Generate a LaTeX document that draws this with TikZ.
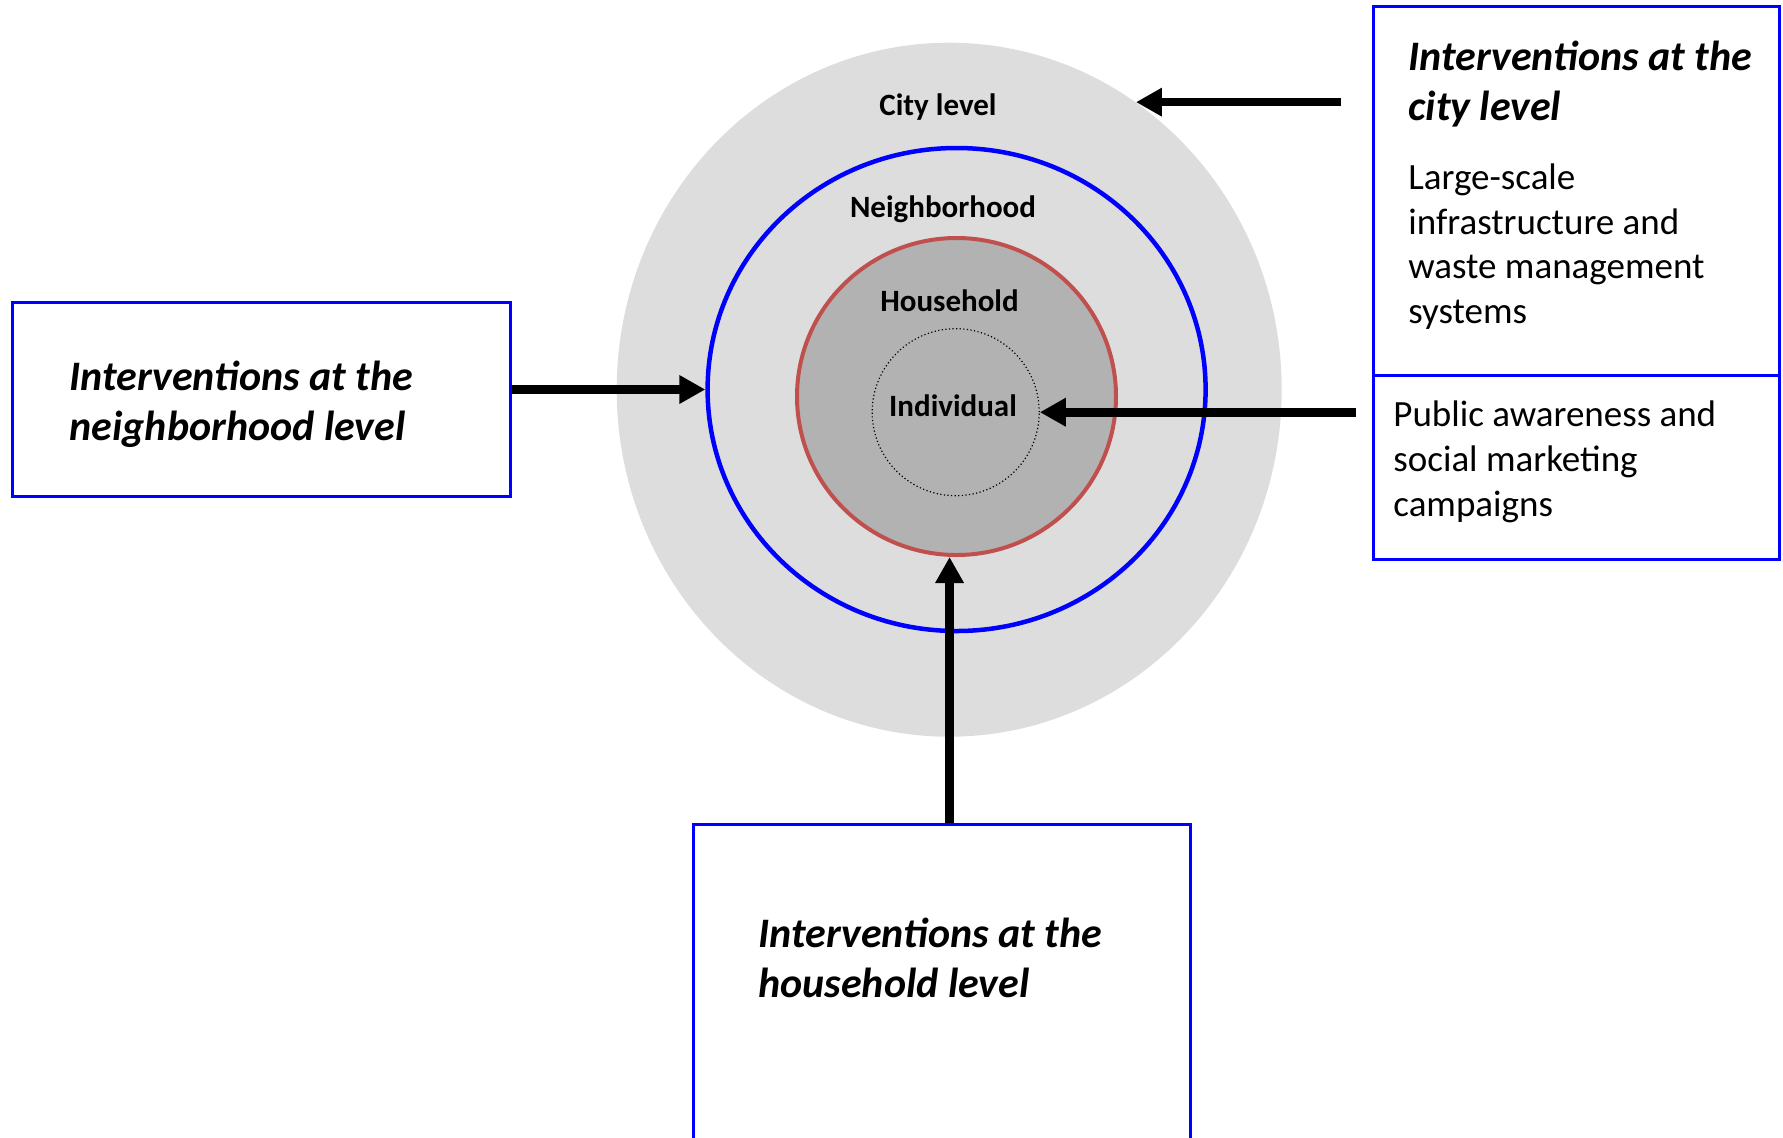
\documentclass[tikz,border=0pt]{standalone}
\usepackage{fontspec}
\setmainfont{Carlito}
\usetikzlibrary{shapes.geometric,arrows.meta,positioning}

\definecolor{cityfill}{HTML}{DDDDDD}
\definecolor{housefill}{HTML}{B2B2B2}
\definecolor{housered}{HTML}{C0504D}
\definecolor{boxblue}{HTML}{0000FF}

\tikzset{
  ring/.style={ellipse, inner sep=0pt},
  ringlabel/.style={font=\fontsize{15.5}{18}\selectfont\bfseries, anchor=base, inner sep=0pt},
  ibox/.style={draw=boxblue, line width=1.5pt, rectangle, inner sep=0pt},
  ititle/.style={font=\fontsize{21}{25}\selectfont\bfseries\itshape, align=left, anchor=base west, inner sep=0pt},
  itext/.style={font=\fontsize{18.5}{22.4}\selectfont, align=left, anchor=base west, inner sep=0pt},
  push/.style={line width=4.3pt, -{Triangle[length=13pt,width=13.5pt]}},
}

\begin{document}
\begin{tikzpicture}[x=0.5pt, y=-0.5pt]
\clip (0,0) rectangle (1783,1137);
% nested levels
\node[ring, fill=cityfill, minimum width=332.5pt, minimum height=347pt] (city) at (949.2,389.7) {};
\node[ring, draw=boxblue, line width=2.25pt, minimum width=249pt, minimum height=241.5pt] (nbhd) at (956.6,389.5) {};
\node[ring, draw=housered, fill=housefill, line width=2pt, minimum width=159.5pt, minimum height=158.5pt] (house) at (956.5,396.5) {};
\node[ring, draw, line width=0.6pt, dash pattern=on 0.6pt off 1.2pt, minimum width=83.5pt, minimum height=83.5pt] (indiv) at (955.7,412.2) {};

\node[ringlabel] (citylbl) at (938,115) {City level};
\node[ringlabel] (nbhdlbl) at (943,217) {Neighborhood};
\node[ringlabel] (houselbl) at (949.5,311) {Household};
\node[ringlabel] (indivlbl) at (953,416) {Individual};

% intervention boxes (text placed by the baseline of its last line)
\node[ibox, minimum width=203pt, minimum height=184.5pt] (citybox) at (1576.5,191) {};
\node[ibox, minimum width=203pt, minimum height=92pt] (pubbox) at (1576.5,467.5) {};
\node[ibox, minimum width=248.75pt, minimum height=97pt] (nbhdbox) at (261.25,399) {};
\node[ibox, minimum width=248.75pt, minimum height=173pt] (housebox) at (941.75,997) {};

\node[ititle] (citytitle) at (1408,120.2) {Interventions at the\\city level};
\node[itext] (citytext) at (1408,323.7) {Large-scale\\infrastructure and\\waste management\\systems};
\node[itext] (pubtext) at (1393,516) {Public awareness and\\social marketing\\campaigns};
\node[ititle] (nbhdtitle) at (69.3,440.4) {Interventions at the\\neighborhood level};
\node[ititle] (housetitle) at (758,997.3) {Interventions at the\\household level};

% arrows
\draw[push, shorten <=15.5pt] (city.57 -| citybox.west) -- (city.57);
\draw[push, shorten <=8pt] (indiv.east -| pubbox.west) -- (indiv.east);
\draw[push] (nbhd.west -| nbhdbox.east) -- (nbhd.west);
\draw[push] ([xshift=3.9pt]housebox.north) -- ([xshift=3.9pt]housebox.north |- house.south);
\end{tikzpicture}
\end{document}
